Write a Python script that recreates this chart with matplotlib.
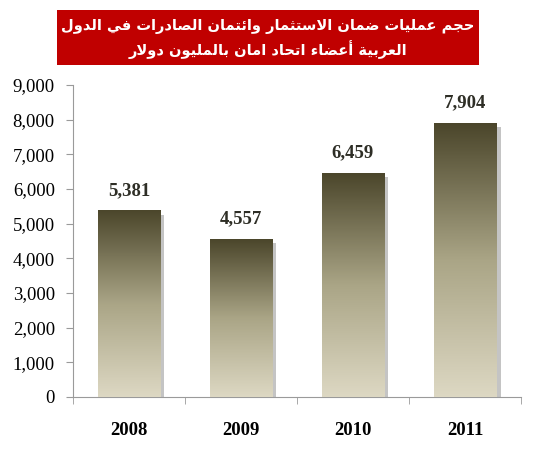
import numpy as np
import matplotlib
matplotlib.use("Agg")
import matplotlib.pyplot as plt
import matplotlib.patheffects as pe
from matplotlib.colors import LinearSegmentedColormap
from matplotlib.patches import Rectangle

# data
years = ["2008", "2009", "2010", "2011"]
values = [5381, 4557, 6459, 7904]
yticks = [0, 1000, 2000, 3000, 4000, 5000, 6000, 7000, 8000, 9000]
title_lines = [
    "حجم عمليات ضمان الاستثمار وائتمان الصادرات في الدول",
    "العربية أعضاء اتحاد امان بالمليون دولار",
]

# presentation forms: (isolated, final, initial, medial); None = no joining to the left
FORMS = {
    "ء": (0xFE80, None, None, None),
    "أ": (0xFE83, 0xFE84, None, None),
    "ا": (0xFE8D, 0xFE8E, None, None),
    "ئ": (0xFE89, 0xFE8A, 0xFE8B, 0xFE8C),
    "ب": (0xFE8F, 0xFE90, 0xFE91, 0xFE92),
    "ة": (0xFE93, 0xFE94, None, None),
    "ت": (0xFE95, 0xFE96, 0xFE97, 0xFE98),
    "ث": (0xFE99, 0xFE9A, 0xFE9B, 0xFE9C),
    "ج": (0xFE9D, 0xFE9E, 0xFE9F, 0xFEA0),
    "ح": (0xFEA1, 0xFEA2, 0xFEA3, 0xFEA4),
    "د": (0xFEA9, 0xFEAA, None, None),
    "ر": (0xFEAD, 0xFEAE, None, None),
    "س": (0xFEB1, 0xFEB2, 0xFEB3, 0xFEB4),
    "ص": (0xFEB9, 0xFEBA, 0xFEBB, 0xFEBC),
    "ض": (0xFEBD, 0xFEBE, 0xFEBF, 0xFEC0),
    "ع": (0xFEC9, 0xFECA, 0xFECB, 0xFECC),
    "ف": (0xFED1, 0xFED2, 0xFED3, 0xFED4),
    "ل": (0xFEDD, 0xFEDE, 0xFEDF, 0xFEE0),
    "م": (0xFEE1, 0xFEE2, 0xFEE3, 0xFEE4),
    "ن": (0xFEE5, 0xFEE6, 0xFEE7, 0xFEE8),
    "و": (0xFEED, 0xFEEE, None, None),
    "ي": (0xFEF1, 0xFEF2, 0xFEF3, 0xFEF4),
}
LAM_ALEF = {"ا": (0xFEFB, 0xFEFC), "أ": (0xFEF7, 0xFEF8)}


def shape_arabic(text):
    """Join letters into contextual forms and reverse for left-to-right drawing"""
    chars = []
    i = 0
    while i < len(text):
        c = text[i]
        if c == "ل" and i + 1 < len(text) and text[i + 1] in LAM_ALEF:
            chars.append(("LA", text[i + 1]))
            i += 2
        else:
            chars.append(("C", c))
            i += 1

    def joins_left(item):
        kind, c = item
        if kind == "LA":
            return False
        return c in FORMS and FORMS[c][2] is not None

    def joins_right(item):
        kind, c = item
        if kind == "LA":
            return True
        return c in FORMS

    out = []
    for k, item in enumerate(chars):
        prev = chars[k - 1] if k > 0 else None
        nxt = chars[k + 1] if k + 1 < len(chars) else None
        link_prev = prev is not None and joins_left(prev) and joins_right(item)
        link_next = nxt is not None and joins_left(item) and joins_right(nxt)
        kind, c = item
        if kind == "LA":
            iso, fin = LAM_ALEF[c]
            code = fin if link_prev else iso
            out.append(chr(code))
        elif c in FORMS:
            iso, fin, ini, med = FORMS[c]
            if link_prev and link_next:
                code = med
            elif link_prev:
                code = fin
            elif link_next:
                code = ini
            else:
                code = iso
            out.append(chr(code))
        else:
            out.append(c)
    return "".join(reversed(out))


fig = plt.figure(figsize=(5.36, 4.5), dpi=100)
ax = fig.add_axes([0.136, 0.118, 0.836, 0.693])

x = np.arange(len(years))
bars = ax.bar(x, values, width=0.56, color="#8c8666", zorder=2,
              path_effects=[pe.SimplePatchShadow(offset=(3, -3), shadow_rgbFace="#8a8a8a", alpha=0.5),
                            pe.Normal()])

cmap = LinearSegmentedColormap.from_list("olive", ["#ddd8c3", "#aaa586", "#4b462b"])
grad = np.linspace(0, 1, 256).reshape(-1, 1)
for bar in bars:
    x0, w, h = bar.get_x(), bar.get_width(), bar.get_height()
    im = ax.imshow(grad, cmap=cmap, origin="lower", aspect="auto",
                   extent=(x0, x0 + w, 0, h), zorder=3)
    im.set_clip_path(bar)

for xi, v in zip(x, values):
    ax.text(xi, v + 330, f"{v:,}", ha="center", va="bottom", fontsize=13.5,
            fontweight="bold", family="Liberation Serif", color="#2e2e26")

ax.set_xlim(-0.5, len(years) - 0.5)
ax.set_ylim(0, 9000)
ax.set_yticks(yticks)
ax.set_yticklabels([f"{t:,}" for t in yticks], family="Liberation Serif", fontsize=13.5)
ax.set_xticks(x)
ax.set_xticklabels(years, family="Liberation Serif", fontsize=13.5, fontweight="bold")
ax.set_xticks(np.arange(-0.5, len(years)), minor=True)
ax.tick_params(axis="x", which="major", length=0, pad=18)
ax.tick_params(axis="x", which="minor", length=5, color="#9a9a9a")
ax.tick_params(axis="y", length=5, color="#9a9a9a", pad=8)
for side in ["top", "right"]:
    ax.spines[side].set_visible(False)
for side in ["left", "bottom"]:
    ax.spines[side].set_color("#9a9a9a")

# red title box
fig.patches.append(Rectangle((57 / 536, 1 - 65 / 450), 422 / 536, 55 / 450,
                             transform=fig.transFigure, facecolor="#c00000",
                             edgecolor="none", zorder=0))
fig.text(268 / 536, 1 - 27 / 450, shape_arabic(title_lines[0]), ha="center", va="center",
         color="white", fontsize=10.5, fontweight="bold", family="DejaVu Sans")
fig.text(268 / 536, 1 - 50 / 450, shape_arabic(title_lines[1]), ha="center", va="center",
         color="white", fontsize=10.5, fontweight="bold", family="DejaVu Sans")

fig.savefig("out.png", dpi=100)
